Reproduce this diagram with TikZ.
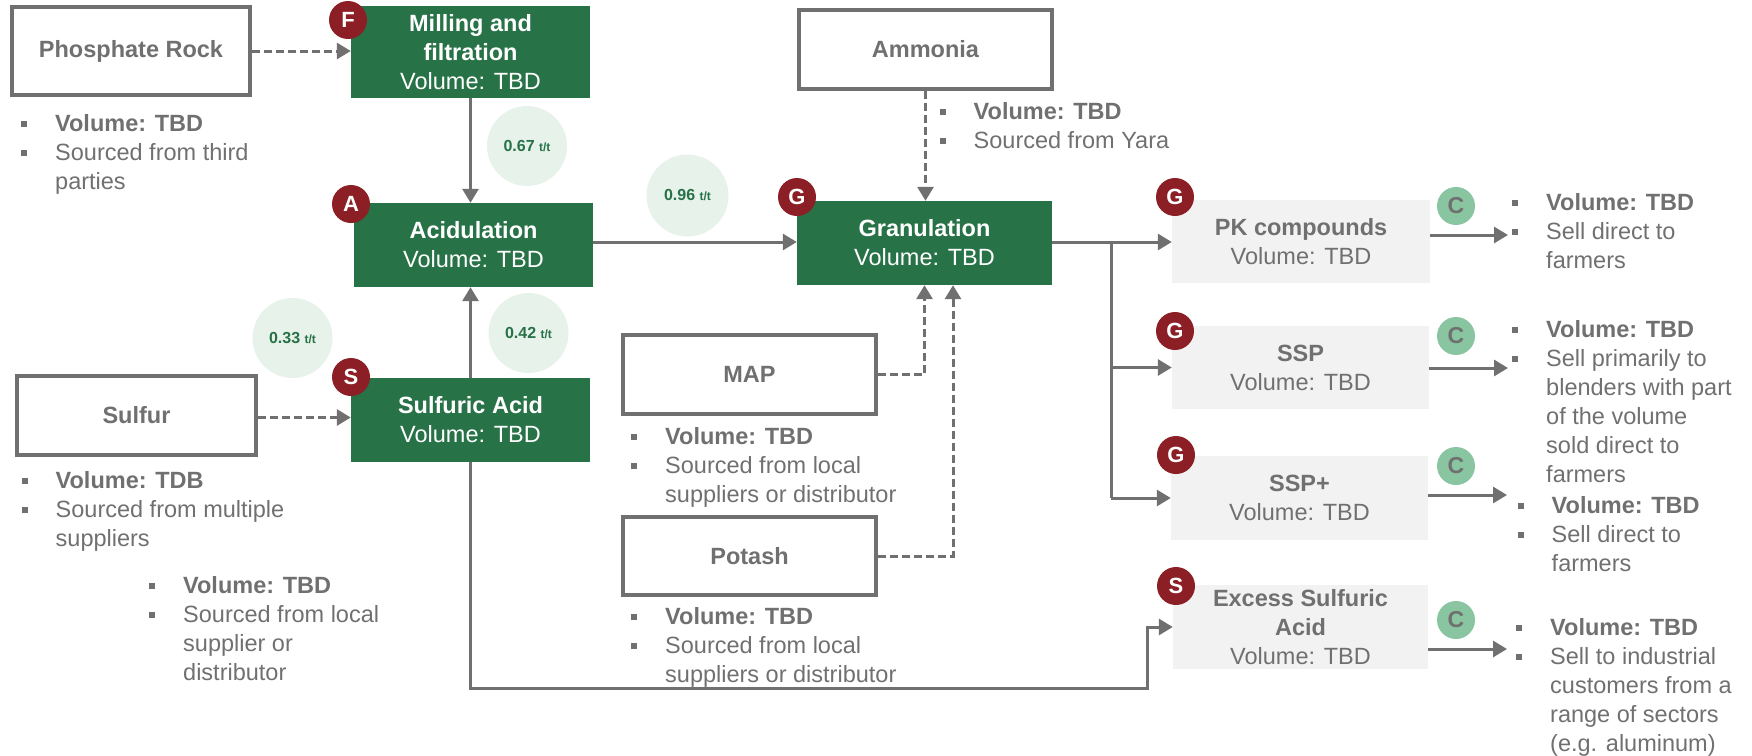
\documentclass[tikz,border=0pt]{standalone}
\usepackage{fontspec}
\setmainfont{Liberation Sans}
\usetikzlibrary{arrows.meta,shapes.geometric}

\definecolor{ink}{HTML}{707070}
\definecolor{procgreen}{HTML}{277247}
\definecolor{badgered}{HTML}{8B1F25}
\definecolor{ratiofill}{HTML}{E7F2EB}
\definecolor{prodfill}{HTML}{F2F2F2}
\definecolor{custgreen}{HTML}{88C5A0}

% square bullet and hanging indent for the note lists
\newcommand\bulletsq{\makebox[34pt][l]{\raisebox{5pt}{\rule{6pt}{6pt}}}}
\newcommand\contline{\hspace*{34pt}}
\newcommand\txt{\fontsize{23.5}{29}\selectfont}
\newcommand\tpt{{\fontsize{12}{14}\selectfont t/t}}

\tikzset{
  srcbox/.style={draw=ink, line width=4pt, fill=white, text=ink,
    font=\txt\bfseries, inner sep=0pt},
  procbox/.style={fill=procgreen, text=white, font=\txt, align=center, inner sep=0pt},
  prodbox/.style={fill=prodfill, text=ink, font=\txt, align=center, inner sep=0pt},
  badge/.style={circle, fill=badgered, text=white,
    font=\fontsize{22}{23}\selectfont\bfseries,
    minimum size=38pt, inner sep=0pt},
  custbadge/.style={circle, fill=custgreen, text=ink,
    font=\fontsize{23}{24}\selectfont\bfseries,
    minimum size=38pt, inner sep=0pt},
  ratio/.style={circle, fill=ratiofill, text=procgreen,
    font=\fontsize{16}{18}\selectfont\bfseries, inner sep=0pt,
    minimum size=80pt},
  notes/.style={anchor=north west, align=left, text=ink, font=\txt, inner sep=0pt},
  flow/.style={draw=ink, line width=3pt, -{Triangle[width=16pt,length=14pt]}},
  feed/.style={flow, dash pattern=on 8pt off 4pt},
  plain/.style={draw=ink, line width=3pt},
}

\begin{document}
\begin{tikzpicture}[x=1pt,y=-1pt]
\useasboundingbox (0,0) rectangle (1752,755);

% ---------- raw material sources ----------
\node[srcbox, minimum width=238pt, minimum height=88pt] (phos) at (131,51) {Phosphate Rock};
\node[srcbox, minimum width=239pt, minimum height=79pt] (sulfur) at (136.5,415.5) {Sulfur};
\node[srcbox, minimum width=253pt, minimum height=79pt] (ammonia) at (925.5,49.5) {Ammonia};
\node[srcbox, minimum width=253pt, minimum height=79pt] (map) at (749.5,374.5) {MAP};
\node[srcbox, minimum width=253pt, minimum height=78pt] (potash) at (749.5,556) {Potash};

% ---------- process steps ----------
\node[procbox, minimum width=239pt, minimum height=92pt] (mill) at (470.5,52)
  {\textbf{Milling and}\\\textbf{filtration}\\Volume: TBD};
\node[procbox, minimum width=239pt, minimum height=84pt] (acid) at (473.5,245)
  {\textbf{Acidulation}\\Volume: TBD};
\node[procbox, minimum width=239pt, minimum height=84pt] (sulf) at (470.5,420)
  {\textbf{Sulfuric Acid}\\Volume: TBD};
\node[procbox, minimum width=255pt, minimum height=84pt] (gran) at (924.5,243)
  {\textbf{Granulation}\\Volume: TBD};

% ---------- products ----------
\node[prodbox, minimum width=258pt, minimum height=83pt] (pk) at (1301,241.5)
  {\textbf{PK compounds}\\Volume: TBD};
\node[prodbox, minimum width=257pt, minimum height=83pt] (ssp) at (1300.5,367.5)
  {\textbf{SSP}\\Volume: TBD};
\node[prodbox, minimum width=257pt, minimum height=84pt] (sspp) at (1299.5,498)
  {\textbf{SSP+}\\Volume: TBD};
\node[prodbox, minimum width=255pt, minimum height=84pt] (excess) at (1300.5,627)
  {\textbf{Excess Sulfuric}\\\textbf{Acid}\\Volume: TBD};

% ---------- conversion ratios ----------
\node[ratio] (r1) at (527,146) {0.67 \tpt};
\node[ratio, minimum size=82pt] (r2) at (687.5,195.5) {0.96 \tpt};
\node[ratio] (r3) at (528.5,333) {0.42 \tpt};
\node[ratio] (r4) at (292.5,338) {0.33 \tpt};

% ---------- connectors ----------
\draw[feed] (phos.east) -- (phos.east -| mill.west);
\draw[flow] (mill.south) -- (mill.south |- acid.north);
\draw[flow] (sulf.north) -- (sulf.north |- acid.south);
\draw[feed] ([yshift=-2pt]sulfur.east) -- ([yshift=-2pt]sulfur.east -| sulf.west);
\draw[flow] ([yshift=3pt]acid.east) -- ([yshift=3pt]acid.east -| gran.west);
\draw[feed] (ammonia.south) -- (ammonia.south |- gran.north);
\draw[feed] (map.east) -| (gran.south);
\draw[feed] (potash.east) -| ([xshift=28.5pt]gran.south);

\coordinate (split) at (1111,242);
\draw[flow] (gran.east |- split) -- (split -| pk.west);
\draw[plain] (split) -- (split |- sspp.west);
\draw[flow] (split |- ssp.west) -- (ssp.west);
\draw[flow] (split |- sspp.west) -- (sspp.west);

\coordinate (lowturn) at (1147,688);
\draw[flow] (sulf.south) |- (lowturn) |- (excess.west);

\coordinate (pkout) at (1508,235);
\coordinate (sspout) at (1508,368);
\coordinate (ssppout) at (1507,495);
\coordinate (excessout) at (1507,649);
\draw[flow] (pk.east |- pkout) -- (pkout);
\draw[flow] (ssp.east |- sspout) -- (sspout);
\draw[flow] (sspp.east |- ssppout) -- (ssppout);
\draw[flow] (excess.east |- excessout) -- (excessout);

% ---------- badges ----------
\node[badge] (bF) at (348,20) {F};
\node[badge] (bA) at (351,204) {A};
\node[badge] (bS) at (351,377) {S};
\node[badge] (bG) at (797,197) {G};
\node[badge] (bG1) at (1175,197) {G};
\node[badge] (bG2) at (1175,331) {G};
\node[badge] (bG3) at (1176,455) {G};
\node[badge] (bS2) at (1176,586) {S};

\node[custbadge] (c1) at (1456,206) {C};
\node[custbadge] (c2) at (1456,336) {C};
\node[custbadge] (c3) at (1456,466) {C};
\node[custbadge] (c4) at (1456,620) {C};

% ---------- notes ----------
\node[notes] (nphos) at (21,114.6)
  {\bulletsq\textbf{Volume: TBD}\\\bulletsq Sourced from third\\\contline parties};
\node[notes] (nsulfur) at (21.5,471.6)
  {\bulletsq\textbf{Volume: TDB}\\\bulletsq Sourced from multiple\\\contline suppliers};
\node[notes] (nsulf) at (149,576.6)
  {\bulletsq\textbf{Volume: TBD}\\\bulletsq Sourced from local\\\contline supplier or\\\contline distributor};
\node[notes] (namm) at (939.5,102.6)
  {\bulletsq\textbf{Volume: TBD}\\\bulletsq Sourced from Yara};
\node[notes] (nmap) at (631,427.6)
  {\bulletsq\textbf{Volume: TBD}\\\bulletsq Sourced from local\\\contline suppliers or distributor};
\node[notes] (npot) at (631,607.6)
  {\bulletsq\textbf{Volume: TBD}\\\bulletsq Sourced from local\\\contline suppliers or distributor};
\node[notes] (npk) at (1512,193.6)
  {\bulletsq\textbf{Volume: TBD}\\\bulletsq Sell direct to\\\contline farmers};
\node[notes] (nssp) at (1512,320.6)
  {\bulletsq\textbf{Volume: TBD}\\\bulletsq Sell primarily to\\\contline blenders with part\\\contline of the volume\\\contline sold direct to\\\contline farmers};
\node[notes] (nsspp) at (1517.5,496.6)
  {\bulletsq\textbf{Volume: TBD}\\\bulletsq Sell direct to\\\contline farmers};
\node[notes] (nexcess) at (1516,618.6)
  {\bulletsq\textbf{Volume: TBD}\\\bulletsq Sell to industrial\\\contline customers from a\\\contline range of sectors\\\contline (e.g. aluminum)};
\end{tikzpicture}
\end{document}
